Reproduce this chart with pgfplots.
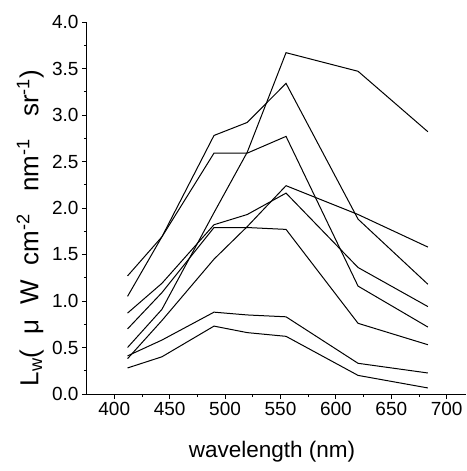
\documentclass[border=0pt]{standalone}
\usepackage{fontspec}
\setmainfont{Liberation Sans}
\usepackage{pgfplots}
\usepackage{pgfplotstable}
\pgfplotsset{compat=1.18}

% water-leaving radiance spectra
\pgfplotstableread{
x    A     B     C     D     E     F     G      H
412  0.50  1.05  1.27  0.38  0.87  0.70  0.41   0.28
443  0.91  1.69  1.69  0.79  1.19  1.09  0.58   0.40
490  1.95  2.78  2.59  1.45  1.82  1.79  0.88   0.73
520  2.60  2.92  2.59  1.80  1.93  1.79  0.85   0.66
555  3.67  3.34  2.77  2.24  2.16  1.77  0.83   0.62
620  3.47  1.88  1.16  1.93  1.36  0.76  0.33   0.20
683  2.82  1.18  0.72  1.58  0.94  0.53  0.226  0.065
}\spectra

\begin{document}
\begin{tikzpicture}
\begin{axis}[
    scale only axis,
    width=379pt, height=372pt,
    xmin=375.4, xmax=717.4,
    ymin=0, ymax=4,
    axis lines=left,
    axis line style={-, line width=1pt},
    xtick={400,450,...,700},
    xticklabels={400,450,500,550,600,650,700},
    minor x tick num=1,
    ytick={0,0.5,...,4},
    yticklabels={0.0,0.5,1.0,1.5,2.0,2.5,3.0,3.5,4.0},
    minor y tick num=1,
    tick align=outside,
    major tick length=5pt, minor tick length=3pt,
    tick style={black, line width=0.9pt},
    ticklabel style={font=\fontsize{19}{19}\selectfont},
    xlabel={wavelength (nm)},
    xlabel style={font=\fontsize{22.5}{22.5}\selectfont,
        at={(axis description cs:0.488,-0.155)}, anchor=center},
    ylabel={L\textsubscript{w}(\hspace{15pt}μ\hspace{15pt}W\hspace{15pt}cm\textsuperscript{-2}\hspace{22pt}nm\textsuperscript{-1}\hspace{22pt}sr\textsuperscript{-1})},
    ylabel style={font=\fontsize{26}{26}\selectfont,
        at={(axis description cs:-0.15,0.446)}, anchor=center},
    clip=false,
]
\pgfplotsinvokeforeach{A,B,C,D,E,F,G,H}{
    \addplot[black, line width=1pt] table[x=x, y=#1] {\spectra};
}
\coordinate (O) at (rel axis cs:0,0);
\coordinate (T) at (rel axis cs:1,1);
\end{axis}
\pgfresetboundingbox
\path ([shift={(-87pt,-77pt)}]O) rectangle ([shift={(0pt,22pt)}]T);
\end{tikzpicture}
\end{document}
